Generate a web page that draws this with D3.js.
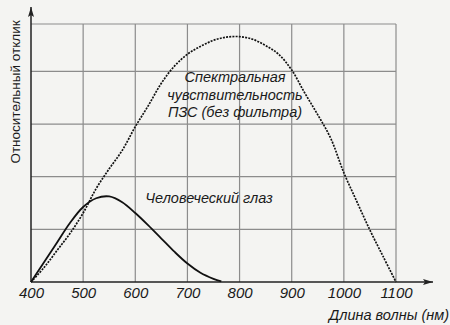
<!DOCTYPE html>
<html lang="ru">
  <head>
    <meta charset="UTF-8" />
    <title>Спектральная чувствительность</title>
    <style>
      body {
        margin: 0;
        background: #f4f4f2;
        font-family: "Liberation Sans", Arial, sans-serif;
      }
      svg { display: block; }
    </style>
    <script src="https://d3js.org/d3.v7.min.js"></script>
  </head>
  <body>
  <script>
    // wavelength ticks (nm)
    const xTicks = [400, 500, 600, 700, 800, 900, 1000, 1100]
    const yGrid = [0.2, 0.4, 0.6, 0.8]

    // ПЗС (без фильтра)
    const ccdNm  = [400, 425, 450, 475, 500, 525, 550, 575, 600, 625, 650, 675, 700, 725, 750, 775, 800, 825, 850, 875, 900, 925, 950, 975, 1000, 1025, 1050, 1075, 1100]
    const ccdVal = [0, 0.055, 0.12, 0.185, 0.262, 0.355, 0.43, 0.50, 0.59, 0.67, 0.755, 0.82, 0.865, 0.895, 0.918, 0.93, 0.932, 0.922, 0.898, 0.865, 0.805, 0.718, 0.635, 0.545, 0.415, 0.305, 0.197, 0.098, 0]

    // Человеческий глаз
    const eyeNm  = [400, 425, 450, 475, 500, 525, 550, 575, 600, 625, 650, 675, 700, 725, 750, 765]
    const eyeVal = [0, 0.075, 0.15, 0.225, 0.285, 0.318, 0.325, 0.303, 0.262, 0.215, 0.165, 0.115, 0.07, 0.035, 0.012, 0.002]

    const width = 450, height = 325

    const svg = d3.select("body").append("svg")
        .attr("width", width)
        .attr("height", height)

    const x = d3.scaleLinear().domain([400, 1100]).range([31, 396])
    const y = d3.scaleLinear().domain([0, 0.98]).range([282, 24])

    // grid
    const grid = svg.append("g")
        .attr("stroke", "#8c8c8c")
        .attr("stroke-width", 1.2)

    grid.selectAll(".v")
      .data(xTicks.slice(1))
      .enter().append("line")
        .attr("x1", d => x(d)).attr("x2", d => x(d))
        .attr("y1", y(0)).attr("y2", y.range()[1])

    grid.selectAll(".h")
      .data(yGrid.concat([y.domain()[1]]))
      .enter().append("line")
        .attr("x1", x(400)).attr("x2", x(1100))
        .attr("y1", d => y(d)).attr("y2", d => y(d))

    // arrow heads
    svg.append("defs").append("marker")
        .attr("id", "arrow")
        .attr("viewBox", "0 0 10 6")
        .attr("refX", 10).attr("refY", 3)
        .attr("markerWidth", 10).attr("markerHeight", 6)
        .attr("markerUnits", "userSpaceOnUse")
        .attr("orient", "auto")
      .append("path")
        .attr("d", "M0,0 L10,3 L0,6 L2,3 Z")
        .attr("fill", "#222")

    // x axis
    const xAxis = svg.append("g")
        .attr("transform", `translate(0,${y(0)})`)
        .call(d3.axisBottom(x).tickValues(xTicks).tickFormat(d3.format("d")).tickSize(0).tickPadding(5))
    xAxis.select(".domain").remove()
    xAxis.selectAll("text")
        .attr("font-size", "15px")
        .attr("font-style", "italic")
        .attr("fill", "#1a1a1a")
        .attr("font-family", "'Liberation Sans', Arial, sans-serif")

    svg.append("line")
        .attr("x1", x(400)).attr("x2", 433)
        .attr("y1", y(0)).attr("y2", y(0))
        .attr("stroke", "#222").attr("stroke-width", 1.5)
        .attr("marker-end", "url(#arrow)")

    svg.append("line")
        .attr("x1", x(400)).attr("x2", x(400))
        .attr("y1", y(0)).attr("y2", 7)
        .attr("stroke", "#222").attr("stroke-width", 1.5)
        .attr("marker-end", "url(#arrow)")

    // curves
    const line = d3.line()
        .curve(d3.curveCatmullRom.alpha(0.5))
        .x(d => x(d[0]))
        .y(d => y(d[1]))

    svg.append("path")
        .datum(d3.zip(ccdNm, ccdVal))
        .attr("fill", "none")
        .attr("stroke", "#111")
        .attr("stroke-width", 1.7)
        .attr("stroke-dasharray", "2,1.2")
        .attr("d", line)

    svg.append("path")
        .datum(d3.zip(eyeNm, eyeVal))
        .attr("fill", "none")
        .attr("stroke", "#111")
        .attr("stroke-width", 1.8)
        .attr("d", line)

    // labels
    const lbl = svg.append("g")
        .attr("font-style", "italic")
        .attr("font-size", "14.5px")
        .attr("fill", "#1a1a1a")
        .attr("text-anchor", "middle")

    lbl.selectAll("text")
      .data(["Спектральная", "чувствительность", "ПЗС (без фильтра)"])
      .enter().append("text")
        .attr("x", 235)
        .attr("y", (d, i) => 82 + i * 17.5)
        .text(d => d)

    lbl.append("text")
        .attr("x", 209).attr("y", 203)
        .text("Человеческий глаз")

    svg.append("text")
        .attr("x", 449).attr("y", 320)
        .attr("text-anchor", "end")
        .attr("font-style", "italic")
        .attr("font-size", "14.5px")
        .attr("fill", "#1a1a1a")
        .text("Длина волны (нм)")

    svg.append("text")
        .attr("transform", "translate(20,92) rotate(-90)")
        .attr("text-anchor", "middle")
        .attr("font-size", "13.5px")
        .attr("fill", "#1a1a1a")
        .text("Относительный отклик")
  </script>
  </body>
</html>
